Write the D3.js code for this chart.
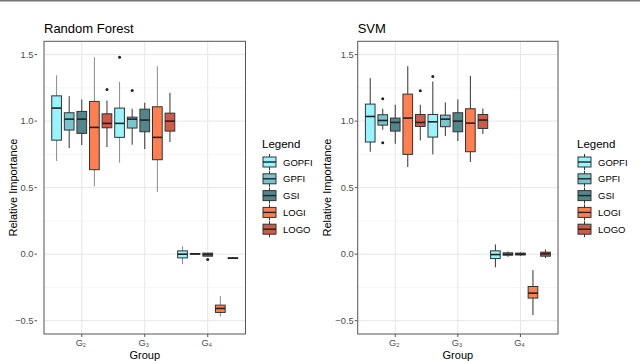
<!DOCTYPE html>
<html>
<head>
<meta charset="utf-8">
<script src="https://cdn.jsdelivr.net/npm/d3@7"></script>
<style>
  body { margin: 0; background: #fff; }
  svg text { font-family: 'Liberation Sans', Arial, sans-serif; }
</style>
</head>
<body>
<div id="chart"></div>
<script>
// data
const groups = ['2', '3', '4']            // G subscript
const methods = ['GOPFI', 'GPFI', 'GSI', 'LOGI', 'LOGO']
const colors = ['#98F5FF', '#7AC5CD', '#53868B', '#FF7F50', '#CD5B45']
const yTicks = [-0.5, 0, 0.5, 1, 1.5]
const yMinor = [-0.25, 0.25, 0.75, 1.25]

// [group, method, lower whisker, q1, median, q3, upper whisker, outliers]
const rfStats = [
  ['2', 'GOPFI', 0.70, 0.857, 1.098, 1.19, 1.345, []],
  ['2', 'GPFI', 0.797, 0.933, 1.015, 1.063, 1.188, []],
  ['2', 'GSI', 0.82, 0.908, 1.015, 1.073, 1.163, []],
  ['2', 'LOGI', 0.51, 0.635, 0.953, 1.148, 1.48, []],
  ['2', 'LOGO', 0.805, 0.95, 0.983, 1.055, 1.155, [1.238]],
  ['3', 'GOPFI', 0.688, 0.878, 0.983, 1.098, 1.295, [1.48]],
  ['3', 'GPFI', 0.823, 0.948, 1.015, 1.03, 1.093, [1.23]],
  ['3', 'GSI', 0.79, 0.92, 1.008, 1.09, 1.138, []],
  ['3', 'LOGI', 0.467, 0.71, 0.878, 1.108, 1.413, []],
  ['3', 'LOGO', 0.843, 0.925, 1.0, 1.06, 1.213, []],
  ['4', 'GOPFI', -0.075, -0.028, 0.0, 0.025, 0.06, []],
  ['4', 'GPFI', 0.0, 0.0, 0.002, 0.004, 0.004, []],
  ['4', 'GSI', -0.015, -0.015, -0.002, 0.008, 0.008, [-0.04]],
  ['4', 'LOGI', -0.47, -0.438, -0.408, -0.383, -0.315, []],
  ['4', 'LOGO', -0.03, -0.03, -0.03, -0.028, -0.028, []]
]

const svmStats = [
  ['2', 'GOPFI', 0.77, 0.843, 1.035, 1.128, 1.323, []],
  ['2', 'GPFI', 0.935, 0.97, 1.005, 1.048, 1.093, [1.168, 0.838]],
  ['2', 'GSI', 0.83, 0.925, 0.99, 1.023, 1.123, []],
  ['2', 'LOGI', 0.655, 0.75, 1.023, 1.203, 1.413, []],
  ['2', 'LOGO', 0.855, 0.96, 0.99, 1.05, 1.123, [1.228]],
  ['3', 'GOPFI', 0.75, 0.88, 0.995, 1.05, 1.298, [1.335]],
  ['3', 'GPFI', 0.888, 0.958, 1.015, 1.045, 1.14, []],
  ['3', 'GSI', 0.85, 0.92, 1.0, 1.063, 1.163, []],
  ['3', 'LOGI', 0.693, 0.77, 0.985, 1.093, 1.34, []],
  ['3', 'LOGO', 0.903, 0.945, 1.008, 1.05, 1.095, []],
  ['4', 'GOPFI', -0.098, -0.033, -0.003, 0.025, 0.073, []],
  ['4', 'GPFI', -0.02, -0.008, 0.0, 0.01, 0.02, []],
  ['4', 'GSI', -0.012, -0.006, 0.0, 0.008, 0.012, []],
  ['4', 'LOGI', -0.458, -0.33, -0.293, -0.243, -0.12, []],
  ['4', 'LOGO', -0.03, -0.015, 0.002, 0.015, 0.035, []]
]

const panels = [
  { title: 'Random Forest', stats: rfStats, left: 44, right: 245.5, tickX: 37, legendX: 262, whisker: '#8a8a8a' },
  { title: 'SVM', stats: svmStats, left: 357.7, right: 558, tickX: 357.2, legendX: 577, whisker: '#333' }
]

const width = 640, height = 361
const plotTop = 41.3, plotBottom = 334

const svg = d3.select('#chart').append('svg')
  .attr('width', width)
  .attr('height', height)

svg.append('rect').attr('x', 0).attr('y', 0).attr('width', width).attr('height', 1.5).attr('fill', '#777')

const yScale = d3.scaleLinear().domain([-0.6, 1.6]).range([plotBottom, plotTop])
const colorScale = d3.scaleOrdinal().domain(methods).range(colors)

panels.forEach(p => {
  const g = svg.append('g')

  const xScale = d3.scalePoint().domain(groups).range([p.left, p.right]).padding(0.6)
  const step = xScale.step()
  const dodge = d3.scaleBand().domain(methods).range([-step / 2, step / 2])
  const bw = dodge.bandwidth() * 0.77

  // grid
  g.selectAll('.minor').data(yMinor).join('line')
    .attr('x1', p.left).attr('x2', p.right)
    .attr('y1', d => yScale(d)).attr('y2', d => yScale(d))
    .attr('stroke', '#f2f2f2').attr('stroke-width', 0.7)
  g.selectAll('.major').data(yTicks).join('line')
    .attr('x1', p.left).attr('x2', p.right)
    .attr('y1', d => yScale(d)).attr('y2', d => yScale(d))
    .attr('stroke', '#e6e6e6').attr('stroke-width', 1)
  g.selectAll('.vmajor').data(groups).join('line')
    .attr('x1', d => xScale(d)).attr('x2', d => xScale(d))
    .attr('y1', plotTop).attr('y2', plotBottom)
    .attr('stroke', '#e6e6e6').attr('stroke-width', 1)

  // boxes
  const box = g.selectAll('.box').data(p.stats).join('g')
    .attr('transform', d => `translate(${xScale(d[0]) + dodge(d[1]) + dodge.bandwidth() / 2},0)`)

  box.append('line')
    .attr('y1', d => yScale(d[2])).attr('y2', d => yScale(d[6]))
    .attr('stroke', d => (d[1] === 'GOPFI' || d[1] === 'LOGI') ? p.whisker : '#333')
    .attr('stroke-width', 1)
  box.append('rect')
    .attr('x', -bw / 2).attr('width', bw)
    .attr('y', d => yScale(d[5]))
    .attr('height', d => Math.max(0.5, yScale(d[3]) - yScale(d[5])))
    .attr('fill', d => colorScale(d[1]))
    .attr('stroke', '#333').attr('stroke-width', 1)
  box.append('line')
    .attr('x1', -bw / 2).attr('x2', bw / 2)
    .attr('y1', d => yScale(d[4])).attr('y2', d => yScale(d[4]))
    .attr('stroke', '#222').attr('stroke-width', 1.6)
  box.selectAll('circle').data(d => d[7]).join('circle')
    .attr('r', 1.5)
    .attr('cy', d => yScale(d))
    .attr('fill', '#222')

  // border
  g.append('rect')
    .attr('x', p.left).attr('y', plotTop)
    .attr('width', p.right - p.left).attr('height', plotBottom - plotTop)
    .attr('fill', 'none').attr('stroke', '#555').attr('stroke-width', 1)

  // y axis
  g.selectAll('.ytick').data(yTicks).join('line')
    .attr('x1', p.tickX - 2.5).attr('x2', p.tickX)
    .attr('y1', d => yScale(d)).attr('y2', d => yScale(d))
    .attr('stroke', '#555')
  g.selectAll('.ylab').data(yTicks).join('text')
    .attr('x', p.tickX - 3.5)
    .attr('y', d => yScale(d) + 3.2)
    .attr('text-anchor', 'end')
    .attr('fill', '#4d4d4d')
    .style('font-size', '9.3px')
    .text(d => d3.format('.1f')(d))

  // x axis
  g.selectAll('.xtick').data(groups).join('line')
    .attr('x1', d => xScale(d)).attr('x2', d => xScale(d))
    .attr('y1', plotBottom).attr('y2', plotBottom + 3)
    .attr('stroke', '#555')
  const xl = g.selectAll('.xlab').data(groups).join('text')
    .attr('x', d => xScale(d) - 1)
    .attr('y', plotBottom + 11.5)
    .attr('text-anchor', 'middle')
    .attr('fill', '#4d4d4d')
    .style('font-size', '9.3px')
  xl.append('tspan').text('G')
  xl.append('tspan').text(d => d).attr('dy', 1.5).style('font-size', '5.5px')

  // titles
  g.append('text')
    .attr('x', p.left).attr('y', 33)
    .style('font-size', '13px').attr('fill', '#000')
    .text(p.title)
  g.append('text')
    .attr('x', (p.left + p.right) / 2).attr('y', 358.5)
    .attr('text-anchor', 'middle')
    .style('font-size', '11px')
    .text('Group')
  g.append('text')
    .attr('transform', `translate(${p.left - 27},${(plotTop + plotBottom) / 2}) rotate(-90)`)
    .attr('text-anchor', 'middle')
    .style('font-size', '11px')
    .text('Relative Importance')

  // legend
  const lg = g.append('g').attr('transform', `translate(${p.legendX},0)`)
  lg.append('text').attr('x', 0).attr('y', 148)
    .style('font-size', '11.5px').text('Legend')
  const item = lg.selectAll('.item').data(methods).join('g')
    .attr('transform', (d, i) => `translate(0,${162 + i * 16.8})`)
  item.append('line')
    .attr('x1', 7.5).attr('x2', 7.5).attr('y1', -8).attr('y2', 8)
    .attr('stroke', '#333')
  item.append('rect')
    .attr('x', 1).attr('y', -5).attr('width', 13).attr('height', 10)
    .attr('fill', d => colorScale(d)).attr('stroke', '#333')
  item.append('line')
    .attr('x1', 1).attr('x2', 14).attr('y1', 0).attr('y2', 0)
    .attr('stroke', '#222').attr('stroke-width', 1.4)
  item.append('text')
    .attr('x', 21).attr('y', 3.5)
    .style('font-size', '9.5px')
    .text(d => d)
})
</script>
</body>
</html>
